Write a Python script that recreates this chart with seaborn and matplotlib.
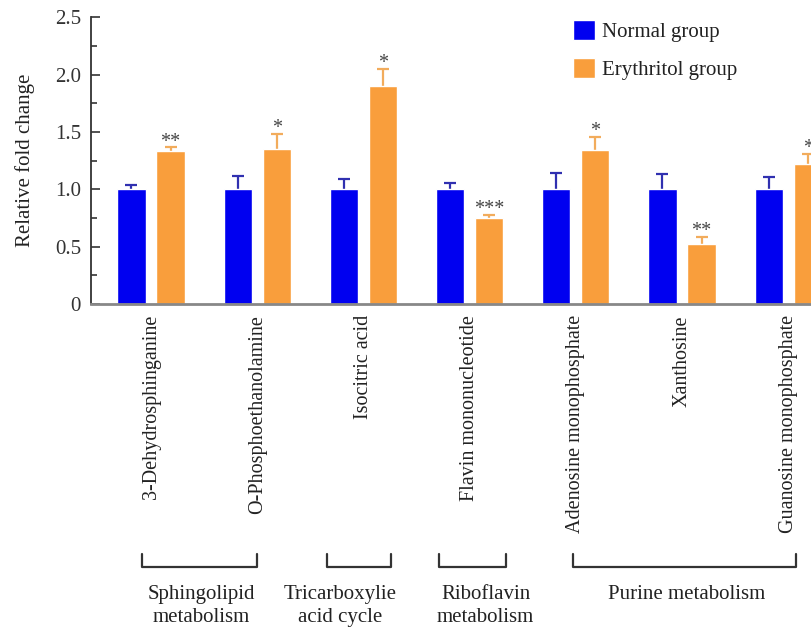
import numpy as np
import pandas as pd
import matplotlib
matplotlib.use("Agg")
import matplotlib.pyplot as plt
import seaborn as sns

metabolites = ["3-Dehydrosphinganine", "O-Phosphoethanolamine", "Isocitric acid",
               "Flavin mononucleotide", "Adenosine monophosphate", "Xanthosine",
               "Guanosine monophosphate"]
normal_vals = [1.0, 1.0, 1.0, 1.0, 1.0, 1.0, 1.0]
normal_err = [0.04, 0.12, 0.09, 0.055, 0.145, 0.135, 0.105]
eryth_vals = [1.335, 1.355, 1.905, 0.75, 1.345, 0.52, 1.22]
eryth_err = [0.03, 0.13, 0.145, 0.03, 0.115, 0.065, 0.09]
stars = ["**", "*", "*", "***", "*", "**", "*"]

groups = ["Normal group", "Erythritol group"]
colors = ["#0000F0", "#F99E3C"]
err_colors = ["#3030B0", "#F2AC5C"]

# pathway brackets: (label, start, end) in category units
pathways = [
    ("Sphingolipid\nmetabolism", -0.085, 1.0),
    ("Tricarboxylie\nacid cycle", 1.66, 2.26),
    ("Riboflavin\nmetabolism", 2.71, 3.345),
    ("Purine metabolism", 3.975, 6.075),
]
pathway_text_x = [0.47, 1.78, 3.15, 5.04]

df = pd.DataFrame({
    "metabolite": metabolites * 2,
    "group": [groups[0]] * len(metabolites) + [groups[1]] * len(metabolites),
    "value": normal_vals + eryth_vals,
})

sns.set_style("ticks")
plt.rcParams["font.family"] = ["Liberation Serif", "DejaVu Serif"]
plt.rcParams["text.color"] = "#222222"

fig = plt.figure(figsize=(8.12, 6.29), dpi=100)
ax = fig.add_axes([0.1117, 0.5167, 0.8883, 0.4558])

sns.barplot(data=df, x="metabolite", y="value", hue="group", order=metabolites,
            hue_order=groups, palette=colors, width=0.736, gap=0.28,
            saturation=1, errorbar=None, ax=ax, zorder=2)

errs = [normal_err, eryth_err]
bar_conts = list(ax.containers)
for i, cont in enumerate(bar_conts):
    xs = [r.get_x() + r.get_width() / 2 for r in cont]
    hs = [r.get_height() for r in cont]
    e = np.array(errs[i])
    # lower half sits behind the bar, so only the upper whisker shows
    ax.errorbar(xs, hs, yerr=e, fmt="none", ecolor=err_colors[i],
                elinewidth=1.6, capsize=4.5, capthick=1.6, zorder=1)
    if i == 1:
        for x, h, ee, s in zip(xs, hs, e, stars):
            ax.annotate(s, (x, h + ee), xytext=(0, 0.5), textcoords="offset points",
                        ha="center", va="baseline", fontsize=14.5, color="#444444")

ax.set_xlim(-0.568, 6.224)
ax.set_ylim(0, 2.5)
ax.set_yticks([0, 0.5, 1.0, 1.5, 2.0, 2.5])
ax.set_yticklabels(["0", "0.5", "1.0", "1.5", "2.0", "2.5"])
ax.set_yticks(np.arange(0, 2.51, 0.25), minor=True)
ax.tick_params(axis="y", which="major", direction="in", length=6.3, width=1.2,
               labelsize=15, pad=7, colors="#333333")
ax.tick_params(axis="y", which="minor", direction="in", length=4.3, width=1.2, colors="#333333")
ax.tick_params(axis="x", length=0, pad=8, labelsize=14.5, labelcolor="#222222")
plt.setp(ax.get_xticklabels(), rotation=90, va="top", ha="center")
ax.set_xlabel("")
ax.set_ylabel("Relative fold change", fontsize=15, labelpad=14, color="#222222")

sns.despine(ax=ax)
ax.spines["left"].set_color("#333333")
ax.spines["left"].set_linewidth(1.3)
ax.spines["bottom"].set_color("#888888")
ax.spines["bottom"].set_linewidth(2)

handles, labels = ax.get_legend_handles_labels()
ax.legend(handles, labels, loc="upper left", bbox_to_anchor=(0.668, 0.99),
          frameon=False, fontsize=15, handlelength=1.1, handleheight=1.1,
          handletextpad=0.3, labelspacing=0.75, borderpad=0, borderaxespad=0)

# pathway brackets under the metabolite names
trans = ax.get_xaxis_transform()
for (name, x0, x1), tx in zip(pathways, pathway_text_x):
    ax.plot([x0, x0, x1, x1], [-0.873, -0.917, -0.917, -0.873], color="#333333",
            lw=1.6, transform=trans, clip_on=False)
    ax.text(tx, -0.98, name, transform=trans, ha="center", va="top",
            fontsize=15, linespacing=1.3, color="#222222")

fig.savefig("out.png", dpi=100)
